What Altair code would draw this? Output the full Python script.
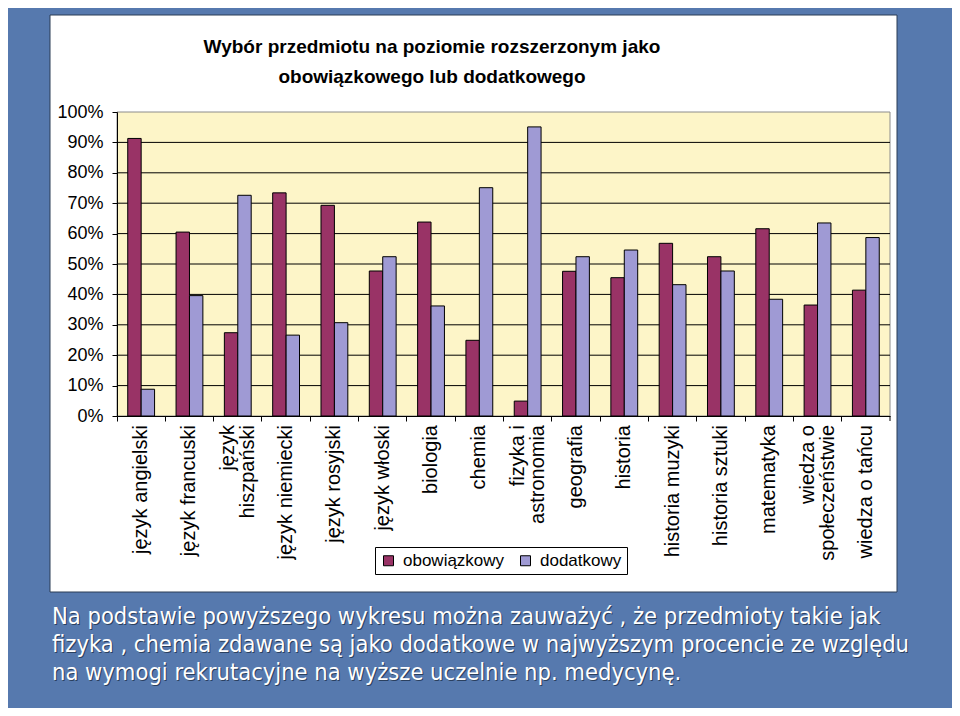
import altair as alt
import pandas as pd

# ---------------- data ----------------
title_lines = [
    "Wybór przedmiotu na poziomie rozszerzonym jako",
    "obowiązkowego lub dodatkowego",
]
subjects = [
    "język angielski", "język francuski", "język\nhiszpański", "język niemiecki",
    "język rosyjski", "język włoski", "biologia", "chemia", "fizyka i\nastronomia",
    "geografia", "historia", "historia muzyki", "historia sztuki", "matematyka",
    "wiedza o\nspołeczeństwie", "wiedza o tańcu",
]
series = ["obowiązkowy", "dodatkowy"]
obowiazkowy = [91.3, 60.5, 27.4, 73.4, 69.3, 47.7, 63.8, 24.9, 4.9, 47.6, 45.5, 56.8, 52.4, 61.6, 36.5, 41.4]
dodatkowy = [8.8, 39.6, 72.6, 26.6, 30.7, 52.4, 36.2, 75.1, 95.1, 52.4, 54.6, 43.2, 47.7, 38.4, 63.5, 58.7]
y_ticks = [0, 0.1, 0.2, 0.3, 0.4, 0.5, 0.6, 0.7, 0.8, 0.9, 1.0]
note_lines = [
    "Na podstawie powyższego wykresu można zauważyć , że przedmioty takie jak",
    "fizyka , chemia zdawane są jako dodatkowe w najwyższym procencie  ze względu",
    "na wymogi rekrutacyjne na wyższe uczelnie np. medycynę.",
]

# ---------------- styling ----------------
FONT = "Liberation Sans, Arial, sans-serif"
NOTE_FONT = "DejaVu Sans Condensed, DejaVu Sans, sans-serif"
W, H = 773, 304
C_OBOW = "#993366"
C_DODAT = "#9f9ad4"
LABEL_LH = 20


def _w(ch):
    if ch in "ijlI.,' ":
        return 0.25
    if ch in "frt":
        return 0.35
    if ch in "mwMW":
        return 0.8
    return 0.55


def centered(label):
    # pad shorter lines with no-break spaces so that lines look centred
    lines = label.split("\n")
    widths = [sum(_w(c) for c in ln) for ln in lines]
    mx = max(widths)
    out = []
    for ln, wd in zip(lines, widths):
        n = int(round((mx - wd) / 2 / 0.278))
        out.append(ln + "\u00a0" * n)
    return "\n".join(out)


rows = []
for s, a, b in zip(subjects, obowiazkowy, dodatkowy):
    rows.append({"przedmiot": s, "typ": series[0], "udzial": a / 100})
    rows.append({"przedmiot": s, "typ": series[1], "udzial": b / 100})
bars_df = pd.DataFrame(rows)
labels_df = pd.DataFrame({
    "przedmiot": subjects,
    "etykieta": [centered(s) for s in subjects],
    "linie": [s.count("\n") + 1 for s in subjects],
})
grid_df = pd.DataFrame({"poziom": y_ticks[1:-1]})
one = pd.DataFrame({"k": [0]})
title_df = pd.DataFrame({"t": ["\n".join(title_lines)]})
note_df = pd.DataFrame({"t": ["\n".join(note_lines)]})

x_scale = alt.Scale(domain=subjects, paddingInner=0, paddingOuter=0)
x_axis = alt.Axis(title=None, labels=False, ticks=True, tickSize=5, tickColor="black",
                  domain=True, domainColor="black", domainWidth=1, grid=False,
                  bandPosition=0, zindex=1)
y_scale = alt.Scale(domain=[0, 1], nice=False, zero=True)
y_axis = alt.Axis(title=None, values=y_ticks, format=".0%", labelFontSize=18, labelFont=FONT,
                  labelColor="black", tickSize=5, tickColor="black", domainColor="black",
                  labelPadding=9, grid=False, zindex=1)

panel = alt.Chart(one).mark_rect(fill="white", stroke="#2b3d55", strokeWidth=1).encode(
    x=alt.value(-67), x2=alt.value(780), y=alt.value(-97), y2=alt.value(480)
)
plot_bg = alt.Chart(one).mark_rect(fill="#fdf5c8", stroke="#8c8c8c", strokeWidth=1).encode(
    x=alt.value(0), x2=alt.value(W), y=alt.value(0), y2=alt.value(H)
)
end_tick = alt.Chart(one).mark_rule(color="black", strokeWidth=1).encode(
    x=alt.value(W), y=alt.value(H), y2=alt.value(H + 5)
)
grid = alt.Chart(grid_df).mark_rule(color="black", strokeWidth=1).encode(
    y=alt.Y("poziom:Q", scale=y_scale, axis=y_axis), x=alt.value(0), x2=alt.value(W)
)
bars = alt.Chart(bars_df).mark_bar(stroke="black", strokeWidth=1).encode(
    x=alt.X("przedmiot:N", scale=x_scale, axis=x_axis),
    xOffset=alt.XOffset("typ:N", scale=alt.Scale(domain=series, paddingInner=0, paddingOuter=0.8)),
    y=alt.Y("udzial:Q", scale=y_scale, axis=y_axis),
    color=alt.Color(
        "typ:N",
        scale=alt.Scale(domain=series, range=[C_OBOW, C_DODAT]),
        legend=alt.Legend(
            title=None, orient="none", legendX=258, legendY=435, direction="horizontal",
            strokeColor="black", fillColor="white", padding=5, symbolType="square",
            symbolSize=100, symbolStrokeColor="black", symbolStrokeWidth=1,
            labelFontSize=17, labelFont=FONT, labelColor="black", columnPadding=12,
            labelOffset=6,
        ),
    ),
)


def label_layer(n_lines):
    return alt.Chart(labels_df).transform_filter(
        alt.datum.linie == n_lines
    ).mark_text(
        angle=270, align="right", baseline="middle", lineBreak="\n", fontSize=20,
        lineHeight=LABEL_LH, font=FONT, color="black", dy=-(n_lines - 1) * LABEL_LH / 2,
    ).encode(
        x=alt.X("przedmiot:N", scale=x_scale, axis=x_axis),
        y=alt.value(H + 9),
        text="etykieta:N",
    )


xlabels1 = label_layer(1)
xlabels2 = label_layer(2)

title = alt.Chart(title_df).mark_text(
    fontSize=19, fontWeight="bold", font=FONT, align="center", baseline="alphabetic",
    lineBreak="\n", lineHeight=30, color="black",
).encode(x=alt.value(315), y=alt.value(-59), text="t:N")
note_shadow = alt.Chart(note_df).mark_text(
    fontSize=23.5, font=NOTE_FONT, align="left", baseline="alphabetic", lineBreak="\n",
    lineHeight=28, color="#1c2d45", opacity=0.75,
).encode(x=alt.value(-64), y=alt.value(513), text="t:N")
note = alt.Chart(note_df).mark_text(
    fontSize=23.5, font=NOTE_FONT, align="left", baseline="alphabetic", lineBreak="\n",
    lineHeight=28, color="white",
).encode(x=alt.value(-65), y=alt.value(512), text="t:N")

chart = alt.layer(
    panel, plot_bg, grid, bars, end_tick, xlabels1, xlabels2, title, note_shadow, note
).properties(
    width=W,
    height=H,
    autosize=alt.AutoSizeParams(type="none"),
    padding={"left": 109, "top": 104, "right": 62, "bottom": 292},
    background="#5679ae",
).configure_view(stroke=None)

chart.save("out.html", embed_options={"renderer": "svg", "actions": False})
